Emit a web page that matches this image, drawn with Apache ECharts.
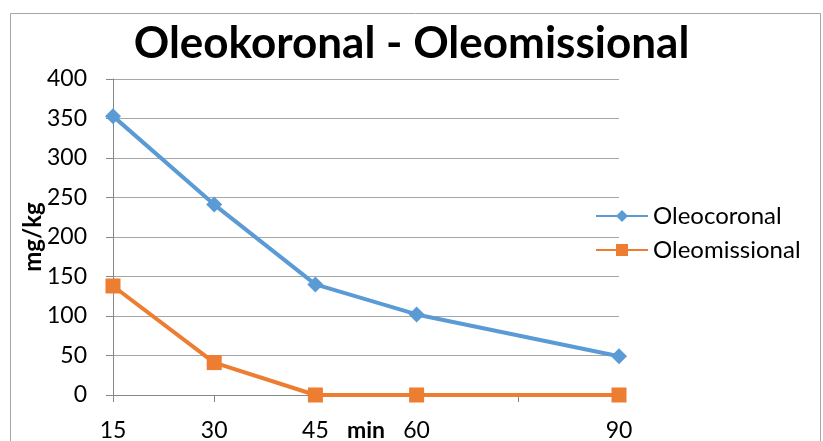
<!DOCTYPE html>
<html><head><meta charset="utf-8">
<script src="https://cdn.jsdelivr.net/npm/echarts@6/dist/echarts.min.js"></script>
<style>html,body{margin:0;padding:0;background:#fff}#c{width:823px;height:441px}</style>
</head><body><div id="c"></div>
<script>
const minutes = [15, 30, 45, 60, 90];
const oleocoronal = [353, 241, 140, 102, 49];
const oleomissional = [138, 41, 0, 0, 0];
const yTicks = [0, 50, 100, 150, 200, 250, 300, 350, 400];
const xTickLabels = ['15', '30', '45', '60', '', '90'];

const chart = echarts.init(document.getElementById('c'));
const font = 'Lato';
chart.setOption({
  animation: false,
  textStyle: { fontFamily: font },
  graphic: [{ type: 'rect', left: 8, top: 11, shape: { width: 810, height: 440 }, style: { fill: 'none', stroke: '#a6a6a6', lineWidth: 1 }, silent: true }],
  title: { text: 'Oleokoronal - Oleomissional', left: 'center', top: 17, textStyle: { fontFamily: font, fontSize: 44, fontWeight: 'bold', color: '#000' } },
  grid: { left: 113, right: 204, top: 79, bottom: 46, outerBoundsMode: 'none', containLabel: false },
  legend: {
    orient: 'vertical', left: 590, top: 199, itemWidth: 52, itemHeight: 15, itemGap: 10,
    textStyle: { fontFamily: font, fontSize: 24, color: '#000' },
    data: ['Oleocoronal', 'Oleomissional']
  },
  xAxis: {
    type: 'value', min: 15, max: 90, interval: 15,
    name: 'min', nameLocation: 'middle', nameGap: 24, nameMoveOverlap: false,
    nameTextStyle: { fontFamily: font, fontSize: 23, fontWeight: 'bold', color: '#000' },
    axisLine: { lineStyle: { color: '#868686', width: 1 } },
    axisTick: { show: true, length: 7, lineStyle: { color: '#868686' } },
    splitLine: { show: false },
    axisLabel: { margin: 24, fontSize: 23, color: '#000', fontFamily: font,
      formatter: v => { const i = Math.round((v - 15) / 15); return xTickLabels[i] !== undefined ? xTickLabels[i] : ''; } }
  },
  yAxis: {
    type: 'value', min: 0, max: 400, interval: 50,
    name: 'mg/kg', nameLocation: 'middle', nameGap: 68, nameRotate: 90, nameMoveOverlap: false,
    nameTextStyle: { fontFamily: font, fontSize: 24, fontWeight: 'bold', color: '#000' },
    axisLine: { show: true, lineStyle: { color: '#868686', width: 1 } },
    axisTick: { show: true, length: 7, lineStyle: { color: '#868686' } },
    splitLine: { lineStyle: { color: '#a6a6a6', width: 1 } },
    axisLabel: { margin: 26, fontSize: 23, color: '#000', fontFamily: font,
      formatter: v => yTicks.includes(v) ? String(v) : '' }
  },
  series: [
    { name: 'Oleocoronal', type: 'line', data: minutes.map((m, i) => [m, oleocoronal[i]]),
      symbol: 'diamond', symbolSize: 16, lineStyle: { width: 4, color: '#5b9bd5' }, itemStyle: { color: '#5b9bd5' } },
    { name: 'Oleomissional', type: 'line', data: minutes.map((m, i) => [m, oleomissional[i]]),
      symbol: 'rect', symbolSize: 15, lineStyle: { width: 4, color: '#ed7d31' }, itemStyle: { color: '#ed7d31' } }
  ]
});
</script></body></html>
